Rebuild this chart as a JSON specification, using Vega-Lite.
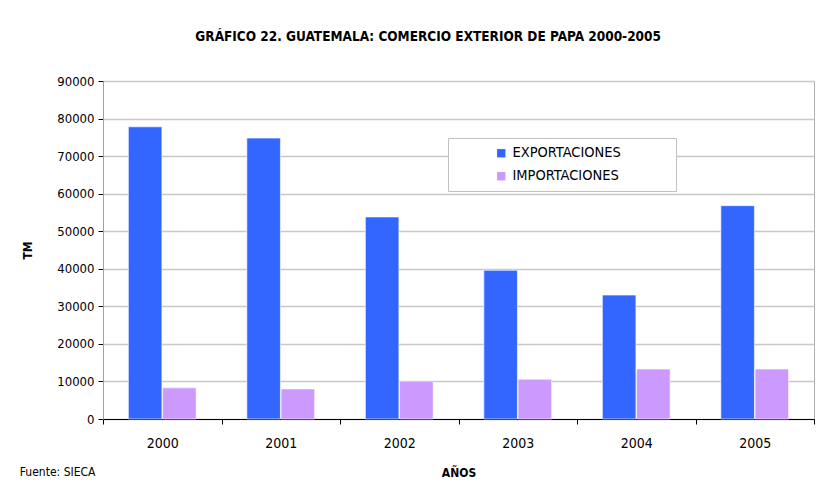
{
  "$schema": "https://vega.github.io/schema/vega-lite/v6.json",
  "background": "white",
  "padding": {"left": 19, "top": 30, "right": 20, "bottom": 8},
  "title": {
    "text": "GRÁFICO 22. GUATEMALA: COMERCIO EXTERIOR DE PAPA 2000-2005",
    "font": "'DejaVu Sans Condensed', 'Liberation Sans', sans-serif",
    "fontSize": 13.5,
    "fontWeight": "bold",
    "color": "#000000",
    "anchor": "middle",
    "dx": 11,
    "offset": 31
  },
  "config": {
    "font": "'DejaVu Sans Condensed', 'Liberation Sans', sans-serif",
    "view": {"stroke": "#b0b0b0", "strokeWidth": 1}
  },
  "vconcat": [
    {
      "width": 711,
      "height": 338,
      "title": {
        "text": "Fuente: SIECA",
        "orient": "bottom",
        "anchor": "start",
        "fontSize": 12,
        "fontWeight": "normal",
        "color": "#000000",
        "offset": -11,
        "dx": -2
      },
      "data": {
        "values": [
          {"year": "2000", "serie": "EXPORTACIONES", "tm": 77800},
          {"year": "2000", "serie": "IMPORTACIONES", "tm": 8300},
          {"year": "2001", "serie": "EXPORTACIONES", "tm": 74800},
          {"year": "2001", "serie": "IMPORTACIONES", "tm": 8000},
          {"year": "2002", "serie": "EXPORTACIONES", "tm": 53800},
          {"year": "2002", "serie": "IMPORTACIONES", "tm": 10100},
          {"year": "2003", "serie": "EXPORTACIONES", "tm": 39600},
          {"year": "2003", "serie": "IMPORTACIONES", "tm": 10600},
          {"year": "2004", "serie": "EXPORTACIONES", "tm": 33000},
          {"year": "2004", "serie": "IMPORTACIONES", "tm": 13300},
          {"year": "2005", "serie": "EXPORTACIONES", "tm": 56800},
          {"year": "2005", "serie": "IMPORTACIONES", "tm": 13300}
        ]
      },
      "mark": {"type": "bar", "stroke": "#ffffff", "strokeWidth": 1, "strokeOpacity": 0.6},
      "encoding": {
        "x": {
          "field": "year",
          "type": "nominal",
          "scale": {"paddingInner": 0, "paddingOuter": 0},
          "axis": {
            "title": "AÑOS",
            "titleFontSize": 12,
            "titleFontWeight": "bold",
            "titleColor": "#000000",
            "titlePadding": 17,
            "labelAngle": 0,
            "labelFontSize": 14,
            "labelColor": "#000000",
            "labelPadding": 12,
            "tickBand": "extent",
            "tickColor": "#000000",
            "tickSize": 5,
            "domainColor": "#000000",
            "grid": false
          }
        },
        "xOffset": {
          "field": "serie",
          "type": "nominal",
          "scale": {"paddingInner": 0.02, "paddingOuter": 0.74}
        },
        "y": {
          "field": "tm",
          "type": "quantitative",
          "scale": {"domain": [0, 90000], "nice": false},
          "axis": {
            "title": "TM",
            "titleFontSize": 12,
            "titleFontWeight": "bold",
            "titleColor": "#000000",
            "titlePadding": 22,
            "values": [0, 10000, 20000, 30000, 40000, 50000, 60000, 70000, 80000, 90000],
            "format": "d",
            "labelFontSize": 13,
            "labelColor": "#000000",
            "labelPadding": 4,
            "tickColor": "#000000",
            "tickSize": 5,
            "domainColor": "#a0a0a0",
            "gridColor": "#c8c8c8",
            "gridWidth": 1.5
          }
        },
        "color": {
          "field": "serie",
          "type": "nominal",
          "scale": {"domain": ["EXPORTACIONES", "IMPORTACIONES"], "range": ["#3366FF", "#CC99FF"]},
          "legend": {
            "title": "MMMM",
            "titleOrient": "right",
            "titleOpacity": 0,
            "titleFontSize": 13,
            "titlePadding": 0,
            "orient": "none",
            "legendX": 345,
            "legendY": 57,
            "direction": "vertical",
            "symbolType": "square",
            "symbolSize": 70,
            "symbolStrokeWidth": 0,
            "symbolOffset": 38,
            "labelFontSize": 14.5,
            "labelColor": "#000000",
            "labelLimit": 300,
            "rowPadding": 8,
            "padding": 8,
            "strokeColor": "#c0c0c0",
            "fillColor": "#ffffff"
          }
        }
      }
    }
  ]
}
